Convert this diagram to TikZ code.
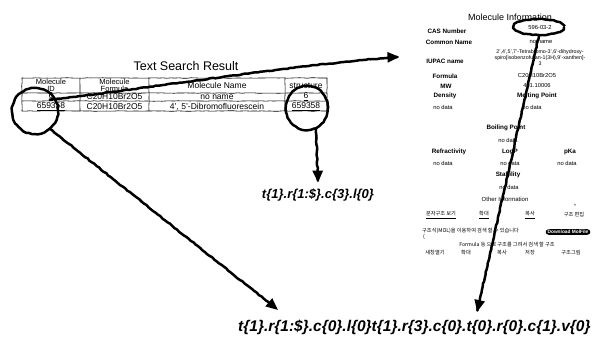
\documentclass[tikz,border=0pt]{standalone}
\usepackage{fontspec}
\setmainfont{Liberation Sans}
\newfontfamily\krfont{Noto Sans CJK KR}
\usetikzlibrary{arrows.meta,decorations.pathmorphing,shapes.geometric,calc}
\begin{document}
\begin{tikzpicture}[x=1pt,y=-1pt,
  hand/.style={line width=2.5pt, decorate, decoration={random steps,segment length=3pt,amplitude=0.45pt}, line join=round},
  handarrow/.style={hand, -{Triangle[length=12pt,width=10pt]}},
  grid/.style={line width=0.6pt, decorate, decoration={random steps,segment length=4pt,amplitude=0.25pt}},
  cell/.style={font=\fontsize{8.5}{8}\selectfont, inner sep=0pt},
  head/.style={cell, align=center, font=\fontsize{7.5}{6.5}\selectfont},
  code/.style={inner sep=0pt},
  lab/.style={font=\bfseries\fontsize{6.3}{6.5}\selectfont, inner sep=0pt},
  val/.style={font=\fontsize{5.8}{6}\selectfont, inner sep=0pt, align=center},
  kr/.style={font=\krfont\fontsize{5.2}{5.5}\selectfont, inner sep=0pt},
  hole/.style={ellipse, inner sep=0pt}]
\useasboundingbox[fill=white] (0,0) rectangle (599,343);

% ---------- Text search result table ----------
\node[font=\fontsize{12.5}{13}\selectfont, inner sep=0pt] (title) at (186,66) {Text Search Result};
\draw[grid] (22,78) rectangle (327,111);
\draw[grid] (22,93) -- (327,93);
\draw[grid] (22,101) -- (327,101);
\foreach \x in {80,149,285} \draw[grid] (\x,78) -- (\x,111);

\node[head] (h1) at (51,85.5) {Molecule\\ID};
\node[head] (h2) at (114.5,85.5) {Molecule\\Formula};
\node[cell] (h3) at (217,85.5) {Molecule Name};
\node[cell] (h4) at (306,85.5) {structure};
\node[cell] (a1) at (51,97) {\underline{6}};
\node[cell] (a2) at (114.5,97) {C20H10Br2O5};
\node[cell] (a3) at (217,97) {no name};
\node[cell] (a4) at (306,97) {\underline{6}};
\node[cell] (b1) at (51,106.5) {\underline{659358}};
\node[cell] (b2) at (114.5,106.5) {C20H10Br2O5};
\node[cell] (b3) at (217,106.5) {4', 5'-Dibromofluorescein};
\node[cell] (b4) at (306,106.5) {\underline{659358}};

% circles
\node[hole, minimum width=46pt, minimum height=46pt] (lc) at (35,111) {};
\draw[hand] (35,111) ellipse (23 and 23);
\node[hole, minimum width=42pt, minimum height=44pt] (rc) at (307,108) {};
\draw[hand] (307,108) ellipse (21 and 22);

% ---------- codes ----------
\node[code, font=\itshape\bfseries\fontsize{13}{14}\selectfont] (mid) at (318,195) {t\{1\}.r\{1:\$\}.c\{3\}.l\{0\}};
\node[code, font=\itshape\bfseries\fontsize{15.5}{16}\selectfont, anchor=west] (bot) at (238,327) {t\{1\}.r\{1:\$\}.c\{0\}.l\{0\}t\{1\}.r\{3\}.c\{0\}.t\{0\}.r\{0\}.c\{1\}.v\{0\}};

% ---------- Molecule information panel ----------
\node[font=\fontsize{9}{10}\selectfont, inner sep=0pt] (mi) at (510,17) {Molecule Information};
\node[lab] (l1) at (447,31) {CAS Number};
\node[val] (v1) at (540,28) {596-03-2};
\node[hole, minimum width=50pt, minimum height=16pt] (ce) at (539,27) {};
\draw[hand] (539,27) ellipse (25 and 8);
\node[lab] (l2) at (449,42) {Common Name};
\node[val] (v2) at (541,42) {no name};
\node[val, font=\fontsize{5.3}{6}\selectfont] (v3) at (540,58) {2',4',5',7'-Tetrabromo-3',6'-dihydroxy-\\spiro[isobenzofuran-1(3H),9'-xanthen]-\\3};
\node[lab] (l3) at (445,61) {IUPAC name};
\node[lab] (l4) at (445,76) {Formula};
\node[val] (v4) at (537,76) {C20H10Br2O5};
\node[lab] (l5) at (446,86) {MW};
\node[val] (v5) at (537,86) {491.10006};
\node[lab] (l6) at (445,96) {Density};
\node[lab] (l7) at (537,96) {Melting Point};
\node[val] (v6) at (443,107) {no data};
\node[val] (v7) at (532,107) {no data};
\node[lab] (l8) at (506,128) {Boiling Point};
\node[val] (v8) at (508,140) {no data};
\node[lab] (l9) at (449,152) {Refractivity};
\node[lab] (l10) at (510,152) {LogP};
\node[lab] (l11) at (570,152) {pKa};
\node[val] (v9) at (443,163) {no data};
\node[val] (v10) at (510,163) {no data};
\node[val] (v11) at (567,163) {no data};
\node[lab] (l12) at (508,175) {Stability};
\node[val] (v12) at (509,187) {no data};
\node[val, font=\fontsize{6}{6}\selectfont] (l13) at (505,199) {Other Information};
\node[kr] (i1) at (441,215) {\underline{분자구조 보기}};
\node[kr] (i2) at (484,215) {\underline{확대}};
\node[kr] (i3) at (530,215) {\underline{복사}};
\node[kr] (i4) at (574,215) {구조 편집};
\node[val, font=\fontsize{6}{6}\selectfont] (i5) at (575,206) {\textdegree};
\node[kr, anchor=west] (k1) at (422,231) {구조식(MOL)을 이용하여 검색 할 수 있습니다};
\node[fill=black, rounded corners=3pt, text=white, inner xsep=2pt, inner ysep=1pt, font=\bfseries\fontsize{4.8}{5}\selectfont] (btn) at (568,232) {Download MolFile};
\node[kr] (k2) at (424,237) {(};
\node[kr] (k3) at (507,245) {Formula 등 으로 구조를 그려서 검색 할 구조};
\node[kr] (b1k) at (435,253) {새창열기};
\node[kr] (b2k) at (466,253) {확대};
\node[kr] (b3k) at (502,253) {복사};
\node[kr] (b4k) at (530,253) {저장};
\node[kr] (b5k) at (571,253) {구조그림};

% ---------- connectors ----------
\coordinate (tipL) at (278,310);
\coordinate (tipR) at (477,312);
\draw[handarrow] ($(lc.center)+(14,-11)$) .. controls (150,88) and (300,64) .. ($(l3.west)+(-27,-4)$);
\draw[handarrow] (lc.-50) -- (tipL);
\draw[handarrow] ($(rc.south)+(9,-1)$) -- ($(mid.north)+(0,-6)$);
\draw[handarrow] (ce.south) -- (tipR);
\end{tikzpicture}
\end{document}
